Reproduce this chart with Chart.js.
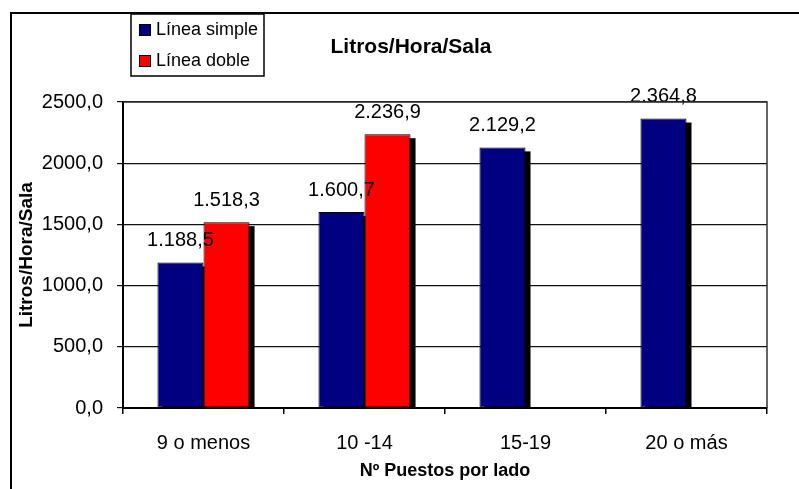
<!DOCTYPE html>
<html>
<head>
<meta charset="utf-8">
<title>Litros/Hora/Sala</title>
<script src="https://cdn.jsdelivr.net/npm/chart.js@4.4.1/dist/chart.umd.min.js"></script>
<style>
  html, body { margin: 0; padding: 0; background: #fff; }
  #wrap { width: 799px; height: 489px; position: relative; }
</style>
</head>
<body>
<div id="wrap"><canvas id="chart" width="799" height="489"></canvas></div>
<script>
const categories = ['9 o menos', '10 -14', '15-19', '20 o más'];
const lineaSimple = [1188.5, 1600.7, 2129.2, 2364.8];
const lineaDoble = [1518.3, 2236.9, null, null];
const yTicks = [0, 500, 1000, 1500, 2000, 2500];

const FONT = '"Liberation Sans", Arial, sans-serif';

// 1.188,5 style numbers
function fmtLabel(v) {
  const parts = v.toFixed(1).split('.');
  return parts[0].replace(/\B(?=(\d{3})+(?!\d))/g, '.') + ',' + parts[1];
}

// outer frame, plot box, title and legend
const decorations = {
  id: 'decorations',
  beforeDraw(chart) {
    const ctx = chart.ctx;
    ctx.save();
    ctx.fillStyle = '#000';
    ctx.fillRect(10, 12, 789, 2);
    ctx.fillRect(10, 12, 2, 477);
    ctx.restore();
  },
  afterDraw(chart) {
    const ctx = chart.ctx;
    const a = chart.chartArea;
    ctx.save();
    ctx.strokeStyle = '#333';
    ctx.lineWidth = 1.5;
    ctx.beginPath();
    ctx.moveTo(a.left, a.top);
    ctx.lineTo(a.right, a.top);
    ctx.lineTo(a.right, a.bottom);
    ctx.stroke();

    ctx.fillStyle = '#000';
    ctx.font = 'bold 21px ' + FONT;
    ctx.textAlign = 'center';
    ctx.textBaseline = 'middle';
    ctx.fillText('Litros/Hora/Sala', 411, 47);

    // legend box
    ctx.fillStyle = '#fff';
    ctx.fillRect(131, 14, 133, 62);
    ctx.strokeStyle = '#000';
    ctx.lineWidth = 1.5;
    ctx.strokeRect(131, 14, 133, 62);
    ctx.font = '18px ' + FONT;
    ctx.textAlign = 'left';
    const rows = [30, 61];
    chart.data.datasets.forEach((ds, i) => {
      const cy = rows[i];
      ctx.fillStyle = ds.backgroundColor;
      ctx.fillRect(139, cy - 6, 12, 12);
      ctx.lineWidth = 1;
      ctx.strokeRect(139.5, cy - 5.5, 11, 11);
      ctx.fillStyle = '#000';
      ctx.fillText(ds.label, 156, cy);
    });
    ctx.restore();
  }
};

// black drop shadow behind every bar
const barShadow = {
  id: 'barShadow',
  beforeDatasetsDraw(chart) {
    const ctx = chart.ctx;
    const a = chart.chartArea;
    ctx.save();
    ctx.fillStyle = '#000';
    chart.data.datasets.forEach((ds, i) => {
      chart.getDatasetMeta(i).data.forEach((bar, j) => {
        if (ds.data[j] == null) return;
        const p = bar.getProps(['x', 'y', 'base', 'width'], true);
        const left = p.x - p.width / 2 + 5;
        const top = p.y + 4;
        ctx.fillRect(left, top, p.width, a.bottom - top);
      });
    });
    ctx.restore();
  }
};

// values above the bars
const valueLabels = {
  id: 'valueLabels',
  afterDatasetsDraw(chart) {
    const ctx = chart.ctx;
    ctx.save();
    ctx.fillStyle = '#000';
    ctx.font = '20px ' + FONT;
    ctx.textAlign = 'center';
    ctx.textBaseline = 'middle';
    chart.data.datasets.forEach((ds, i) => {
      chart.getDatasetMeta(i).data.forEach((bar, j) => {
        const v = ds.data[j];
        if (v == null) return;
        ctx.fillText(fmtLabel(v), bar.x, bar.y - 22);
      });
    });
    ctx.restore();
  }
};

new Chart(document.getElementById('chart'), {
  type: 'bar',
  data: {
    labels: categories,
    datasets: [
      {
        label: 'Línea simple',
        data: lineaSimple,
        backgroundColor: '#000080',
        borderColor: '#000',
        borderWidth: 1,
        borderSkipped: false,
        categoryPercentage: 0.572,
        barPercentage: 1
      },
      {
        label: 'Línea doble',
        data: lineaDoble,
        backgroundColor: '#ff0000',
        borderColor: '#000',
        borderWidth: 1,
        borderSkipped: false,
        categoryPercentage: 0.572,
        barPercentage: 1
      }
    ]
  },
  options: {
    responsive: false,
    animation: false,
    devicePixelRatio: 1,
    layout: { padding: { top: 102, right: 32, left: 0, bottom: 0 } },
    plugins: {
      legend: { display: false },
      title: { display: false },
      tooltip: { enabled: false }
    },
    scales: {
      x: {
        afterFit(scale) { scale.height = 81; },
        grid: {
          offset: true,
          drawOnChartArea: false,
          drawTicks: true,
          tickLength: 6,
          color: '#000',
          lineWidth: 1.5
        },
        border: { display: true, color: '#000', width: 2 },
        ticks: {
          color: '#000',
          font: { family: FONT, size: 20 },
          padding: 17,
          maxRotation: 0
        },
        title: {
          display: true,
          text: 'Nº Puestos por lado',
          color: '#000',
          font: { family: FONT, size: 18, weight: 'bold' },
          padding: { top: 0, bottom: 7 }
        }
      },
      y: {
        min: yTicks[0],
        max: yTicks[yTicks.length - 1],
        afterFit(scale) { scale.width = 123; },
        afterBuildTicks(scale) { scale.ticks = yTicks.map(v => ({ value: v })); },
        grid: {
          color: '#111',
          lineWidth: 1.2,
          tickLength: 6,
          drawTicks: true
        },
        border: { display: true, color: '#000', width: 2 },
        ticks: {
          color: '#000',
          font: { family: FONT, size: 20 },
          padding: 14,
          callback: v => v.toFixed(1).replace('.', ',')
        },
        title: {
          display: true,
          text: 'Litros/Hora/Sala',
          color: '#000',
          font: { family: FONT, size: 19, weight: 'bold' },
          padding: { top: 15, bottom: 0 }
        }
      }
    }
  },
  plugins: [decorations, barShadow, valueLabels]
});
</script>
</body>
</html>
